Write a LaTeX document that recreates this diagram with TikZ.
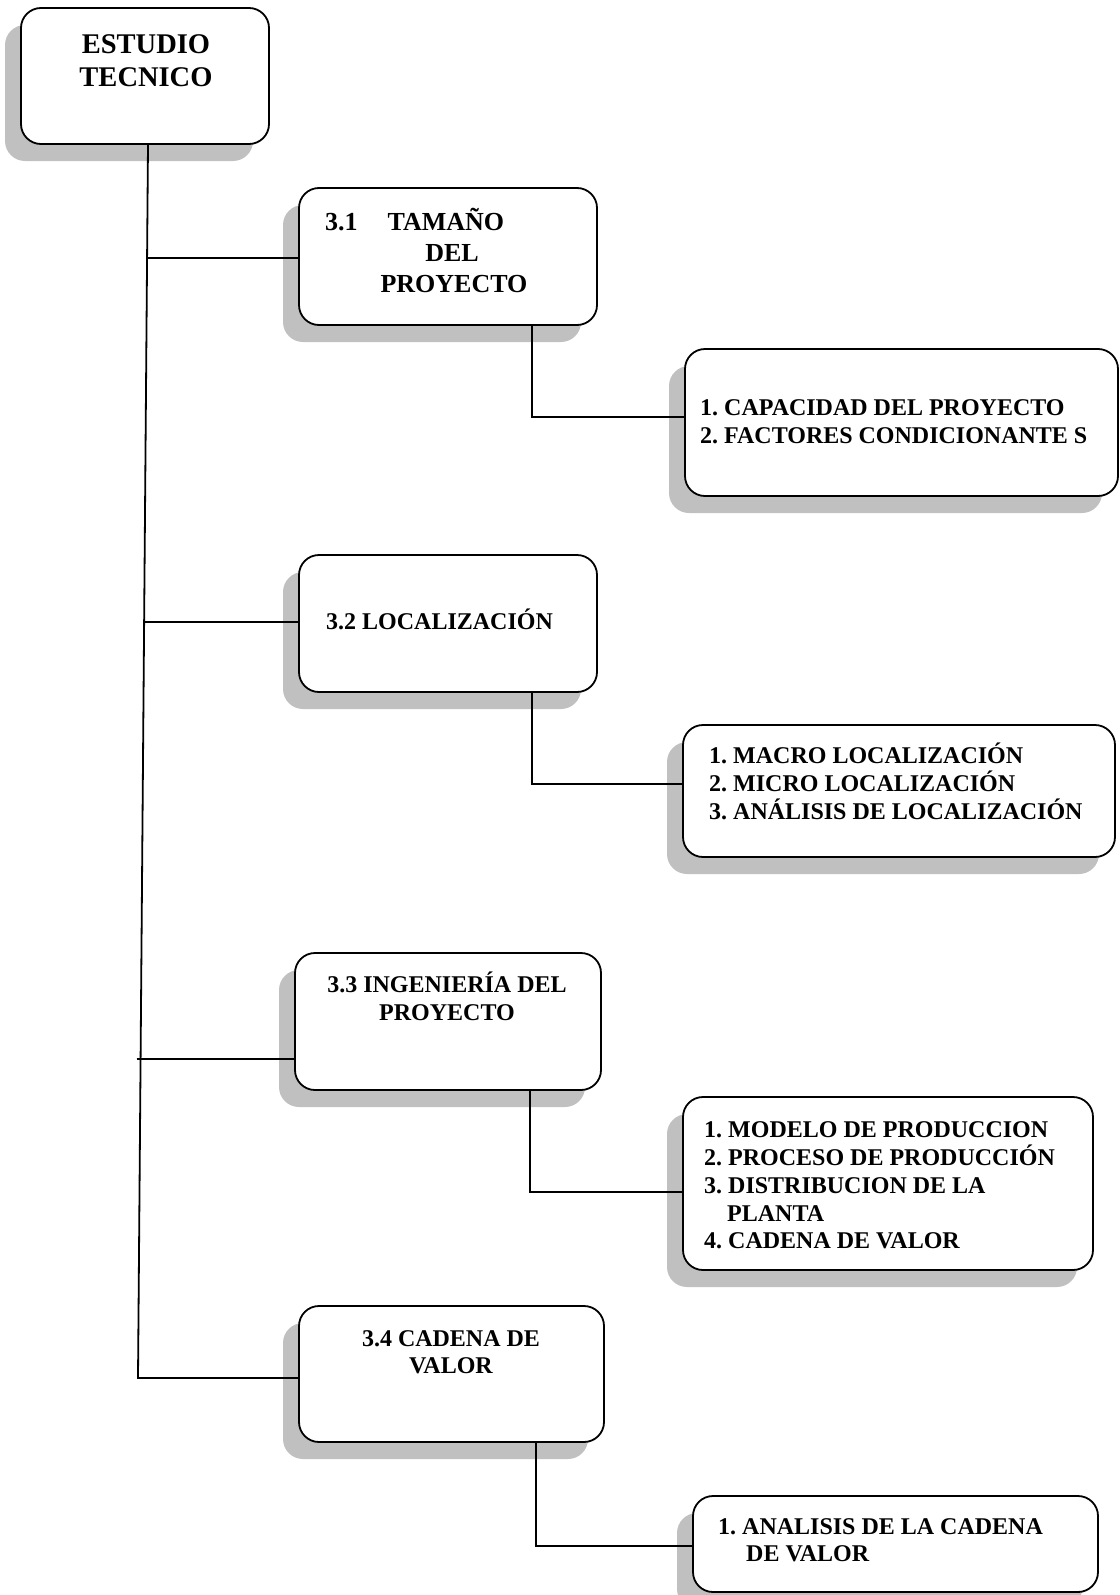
\documentclass[tikz,border=0pt]{standalone}
\usepackage{fontspec}
\setmainfont{Liberation Serif}
\usetikzlibrary{shadows,calc}
\definecolor{shgray}{HTML}{C0C0C0}
\frenchspacing
\begin{document}
\begin{tikzpicture}[x=1pt,y=-1pt,
  card/.style={draw, line width=1.8pt, rounded corners=20pt, fill=white, inner sep=0pt,
    drop shadow={shadow xshift=-16pt, shadow yshift=-17pt, fill=shgray, opacity=1}},
  txt/.style={inner sep=0pt, font=\fontsize{24}{27.6}\selectfont\bfseries},
  link/.style={line width=1.8pt}]
\useasboundingbox (0,0) rectangle (1119,1595);

% boxes
\node[card, minimum width=248pt, minimum height=136pt] (est) at (145,76) {};
\node[card, minimum width=298pt, minimum height=137pt] (b31) at (448,256.5) {};
\node[card, minimum width=298pt, minimum height=137pt] (b32) at (448,623.5) {};
\node[card, minimum width=306pt, minimum height=137pt] (b33) at (448,1021.5) {};
\node[card, minimum width=305pt, minimum height=136pt] (b34) at (451.5,1374) {};
\node[card, minimum width=433pt, minimum height=147pt] (s1) at (901.5,422.5) {};
\node[card, minimum width=432pt, minimum height=132pt] (s2) at (899,791) {};
\node[card, minimum width=410pt, minimum height=173pt] (s3) at (888,1183.5) {};
\node[card, minimum width=405pt, minimum height=96pt] (s4) at (895.5,1544) {};

% texts
\node[txt, font=\fontsize{28.5}{32}\selectfont\bfseries, anchor=base] (t0a) at (146,53) {ESTUDIO};
\node[txt, font=\fontsize{28.5}{32}\selectfont\bfseries, anchor=base] (t0b) at (146,86) {TECNICO};

\node[txt, font=\fontsize{26}{30}\selectfont\bfseries, anchor=base west] (t1a) at (325,230) {3.1\hspace{30pt}TAMAÑO};
\node[txt, font=\fontsize{26}{30}\selectfont\bfseries, anchor=base] (t1b) at (452,261) {DEL};
\node[txt, font=\fontsize{26}{30}\selectfont\bfseries, anchor=base] (t1c) at (454,292) {PROYECTO};

\node[txt, anchor=base west] (t2) at (326,629) {3.2 LOCALIZACIÓN};

\node[txt, anchor=base] (t3a) at (447,992) {3.3 INGENIERÍA DEL};
\node[txt, anchor=base] (t3b) at (447,1020) {PROYECTO};

\node[txt, anchor=base] (t4a) at (451,1346) {3.4 CADENA DE};
\node[txt, anchor=base] (t4b) at (451,1373) {VALOR};

\node[txt, anchor=base west] (u1a) at (700,415) {1. CAPACIDAD DEL PROYECTO};
\node[txt, anchor=base west] (u1b) at (700,443) {2. FACTORES CONDICIONANTE S};

\node[txt, anchor=base west] (u2a) at (709,763) {1. MACRO LOCALIZACIÓN};
\node[txt, anchor=base west] (u2b) at (709,791) {2. MICRO LOCALIZACIÓN};
\node[txt, anchor=base west] (u2c) at (709,819) {3. ANÁLISIS DE LOCALIZACIÓN};

\node[txt, anchor=base west] (u3a) at (704,1137) {1. MODELO DE PRODUCCION};
\node[txt, anchor=base west] (u3b) at (704,1165) {2. PROCESO DE PRODUCCIÓN};
\node[txt, anchor=base west] (u3c) at (704,1193) {3. DISTRIBUCION DE LA};
\node[txt, anchor=base west] (u3d) at (727,1221) {PLANTA};
\node[txt, anchor=base west] (u3e) at (704,1248) {4. CADENA DE VALOR};

\node[txt, anchor=base west] (u4a) at (718,1534) {1. ANALISIS DE LA CADENA};
\node[txt, anchor=base west] (u4b) at (746,1561) {DE VALOR};

% main trunk
\coordinate (vtop) at (148,144);
\coordinate (vbot) at (138,1378);
\coordinate (j1) at ($(vtop)!0.0924!(vbot)$);
\coordinate (j2) at ($(vtop)!0.3874!(vbot)$);
\coordinate (j3) at ($(vtop)!0.7415!(vbot)$);
\draw[link] (vtop) -- (vbot) -- (vbot -| b34.west);
\draw[link] (j1) -- (j1 -| b31.west);
\draw[link] (j2) -- (j2 -| b32.west);
\draw[link] ([xshift=-4pt]j3) -- (j3 -| b33.west);

% sub connectors
\draw[link] ([xshift=84pt]b31.south) |- ([yshift=5.5pt]s1.west);
\draw[link] ([xshift=84pt]b32.south) |- ([yshift=7pt]s2.west);
\draw[link] ([xshift=82pt]b33.south) |- ([yshift=-8.5pt]s3.west);
\draw[link] ([xshift=84.5pt]b34.south) |- ([yshift=-2pt]s4.west);
\end{tikzpicture}
\end{document}
